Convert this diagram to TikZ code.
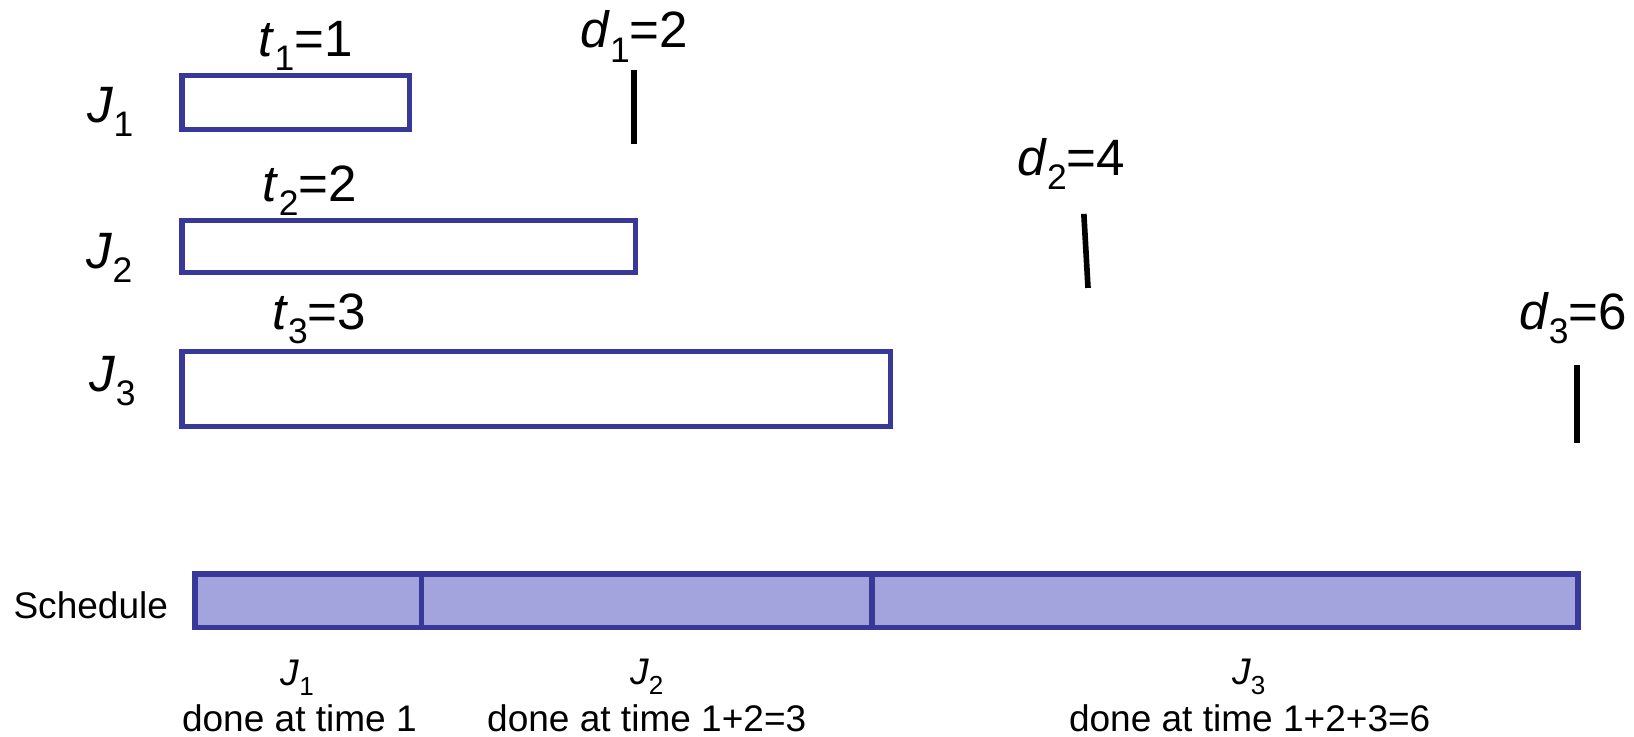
\documentclass[tikz,border=0pt]{standalone}
\usepackage{fontspec}
\setmainfont{Liberation Sans}
\definecolor{jobblue}{RGB}{56,56,153}
\definecolor{jobfill}{RGB}{163,163,222}
\newcommand\bigsub[1]{\raisebox{-0.28em}{\fontsize{34pt}{36pt}\selectfont #1}}
\newcommand\smallsub[1]{\raisebox{-0.28em}{\fontsize{25pt}{27pt}\selectfont #1}}
\begin{document}
\begin{tikzpicture}[x=1pt,y=-1pt,
  jobbox/.style={draw=jobblue,line width=5pt,anchor=north west,inner sep=0pt,outer sep=0pt},
  schedbox/.style={jobbox,fill=jobfill,line width=5.6pt},
  big/.style={font=\fontsize{49pt}{51pt}\selectfont,inner sep=0pt,anchor=base},
  small/.style={font=\fontsize{35.5pt}{37pt}\selectfont,inner sep=0pt,anchor=base},
  deadline/.style={line width=5.4pt}]
\useasboundingbox (0,0) rectangle (1566.4,706.5);
% job boxes
\node[jobbox,minimum width=218pt,minimum height=52pt] (b1) at (174.5,72.5) {};
\node[jobbox,minimum width=435pt,minimum height=50pt] (b2) at (174.5,211.5) {};
\node[jobbox,minimum width=679pt,minimum height=72pt] (b3) at (174.5,337) {};
% labels
\node[big] (j1) at (106,117) {\textit{J}\bigsub{1}};
\node[big] (j2) at (105,257) {\textit{J}\bigsub{2}};
\node[big] (j3) at (108,375) {\textit{J}\bigsub{3}};
\node[big] (t1) at (293,54) {\textit{t}\bigsub{1}=1};
\node[big] (t2) at (297,193) {\textit{t}\bigsub{2}=2};
\node[big] (t3) at (306,316) {\textit{t}\bigsub{3}=3};
\node[big] (d1) at (608,46) {\textit{d}\bigsub{1}=2};
\node[big] (d2) at (1027,168) {\textit{d}\bigsub{2}=4};
\node[big] (d3) at (1508,316) {\textit{d}\bigsub{3}=6};
% deadlines
\coordinate (d1a) at (608,67); \coordinate (d1b) at (608,138);
\coordinate (d2a) at (1039,205); \coordinate (d2b) at (1043,276);
\coordinate (d3a) at (1512,350); \coordinate (d3b) at (1512,425);
\draw[deadline] (d1a) -- (d1b);
\draw[deadline] (d2a) -- (d2b);
\draw[deadline] (d3a) -- (d3b);
% schedule
\node[schedbox,minimum width=1326pt,minimum height=51pt] (s) at (187,550.5) {};
\coordinate (s1t) at (404,550.5); \coordinate (s1b) at (404,601.5);
\coordinate (s2t) at (836,550.5); \coordinate (s2b) at (836,601.5);
\draw[jobblue,line width=5.2pt] (s1t) -- (s1b);
\draw[jobblue,line width=5.2pt] (s2t) -- (s2b);
\node[small] (sl) at (87,593) {Schedule};
\node[small] (sj1) at (285,657) {\textit{J}\smallsub{1}};
\node[small] (sj2) at (620,656) {\textit{J}\smallsub{2}};
\node[small] (sj3) at (1197,656) {\textit{J}\smallsub{3}};
\node[small] (dn1) at (287,701) {done at time 1};
\node[small] (dn2) at (620,701) {done at time 1+2=3};
\node[small] (dn3) at (1198,701) {done at time 1+2+3=6};
\end{tikzpicture}
\end{document}
